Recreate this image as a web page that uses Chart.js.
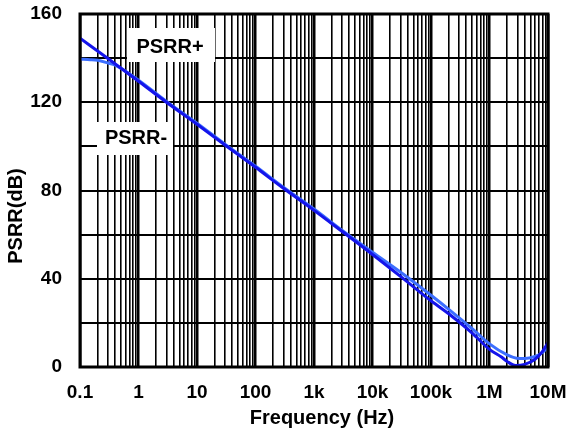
<!DOCTYPE html>
<html>
<head>
<meta charset="utf-8">
<script src="https://cdn.jsdelivr.net/npm/chart.js@4"></script>
<style>
  body { margin: 0; background: #fff; }
  #wrap { width: 569px; height: 434px; }
</style>
</head>
<body>
<div id="wrap"><canvas id="myChart"></canvas></div>
<script>
// values (Hz, dB)
const freqPlus = [0.1, 0.3, 1, 3, 10, 30, 100, 300, 1000, 3000, 10000, 32000, 100000, 227000, 500000, 1000000, 1600000, 2000000, 2800000, 4000000, 6000000, 8000000, 10000000];
const psrrPlus = [149, 139.8, 129.5, 120, 110, 100.6, 90.5, 81, 71, 61.5, 51, 40.5, 30, 23, 15.5, 8, 4.5, 2.5, 0.7, 1.2, 3.5, 7, 11];

const freqMinus = [0.1, 0.15, 0.2, 0.3, 0.4, 1, 3, 10, 30, 100, 300, 1000, 3000, 10000, 32000, 100000, 227000, 500000, 1000000, 2000000, 2900000, 4000000, 6000000, 8000000, 10000000];
const psrrMinus = [139.5, 139.3, 139, 137.8, 136.8, 130, 120.4, 110.5, 101, 91, 81.5, 71.6, 62, 52, 42.5, 32.5, 25, 17.5, 10.5, 5.5, 4, 3.8, 4.8, 6.5, 9];

const xLabels = ['0.1', '1', '10', '100', '1k', '10k', '100k', '1M', '10M'];
const yLabelStep = 40;

function isDecade(v) {
  const l = Math.log10(v);
  return Math.abs(l - Math.round(l)) < 1e-6;
}

function toPts(xs, ys) {
  return xs.map((x, i) => ({ x: x, y: ys[i] }));
}

const extras = {
  id: 'extras',
  afterDatasetsDraw(chart) {
    const c = chart.ctx;
    const a = chart.chartArea;
    c.save();
    // label boxes
    c.fillStyle = '#fff';
    c.fillRect(127, 28, 88, 34);
    c.fillRect(97, 122, 76, 33);
    c.fillStyle = '#000';
    c.font = 'bold 20px Arial, "Liberation Sans"';
    c.textAlign = 'center';
    c.textBaseline = 'middle';
    c.fillText('PSRR+', 170, 47);
    c.fillText('PSRR-', 136, 138);
    // frame
    c.lineWidth = 3;
    c.strokeStyle = '#000';
    c.strokeRect(a.left, a.top, a.right - a.left, a.bottom - a.top);
    // axis titles
    c.font = 'bold 20px Arial, "Liberation Sans"';
    c.fillText('Frequency (Hz)', 322, 418);
    c.translate(16, 216);
    c.rotate(-Math.PI / 2);
    c.fillText('PSRR(dB)', 0, 0);
    c.restore();
  }
};

const ctx = document.getElementById('myChart');
new Chart(ctx, {
  type: 'scatter',
  data: {
    datasets: [{
      label: 'PSRR+',
      data: toPts(freqPlus, psrrPlus),
      showLine: true,
      borderColor: 'rgb(20, 20, 235)',
      borderWidth: 3,
      pointRadius: 0,
      cubicInterpolationMode: 'monotone'
    }, {
      label: 'PSRR-',
      data: toPts(freqMinus, psrrMinus),
      showLine: true,
      borderColor: 'rgb(60, 110, 255)',
      borderWidth: 3,
      pointRadius: 0,
      cubicInterpolationMode: 'monotone'
    }]
  },
  options: {
    responsive: true,
    maintainAspectRatio: false,
    animation: false,
    layout: { padding: { left: 0, top: 14, right: 21, bottom: 0 } },
    plugins: {
      legend: { display: false },
      tooltip: { enabled: false }
    },
    scales: {
      x: {
        type: 'logarithmic',
        min: 0.1,
        max: 10000000,
        afterFit: s => {
          s.height = 67;
          s.paddingLeft = 0;
          s.paddingRight = 0;
        },
        afterBuildTicks: s => {
          const t = [];
          for (let e = -1; e <= 6; e++) {
            for (let m = 1; m <= 9; m++) {
              t.push({ value: Number((m * Math.pow(10, e)).toPrecision(3)) });
            }
          }
          t.push({ value: 10000000 });
          s.ticks = t;
        },
        border: { display: false },
        grid: {
          color: '#000',
          drawTicks: false,
          lineWidth: c => (c.tick && isDecade(c.tick.value)) ? 2.5 : 1.6
        },
        ticks: {
          autoSkip: false,
          maxRotation: 0,
          padding: 14,
          color: '#000',
          font: { family: 'Arial, "Liberation Sans"', size: 19, weight: 'bold' },
          callback: v => isDecade(v) ? xLabels[Math.round(Math.log10(v)) + 1] : ''
        }
      },
      y: {
        min: 0,
        max: 160,
        afterFit: s => {
          s.width = 80;
          s.paddingTop = 0;
          s.paddingBottom = 0;
        },
        border: { display: false },
        grid: { color: '#000', drawTicks: false, lineWidth: 2 },
        ticks: {
          stepSize: 10,
          padding: 18,
          color: '#000',
          font: { family: 'Arial, "Liberation Sans"', size: 19, weight: 'bold' },
          callback: v => v % yLabelStep === 0 ? v : ''
        }
      }
    }
  },
  plugins: [extras]
});
</script>
</body>
</html>
